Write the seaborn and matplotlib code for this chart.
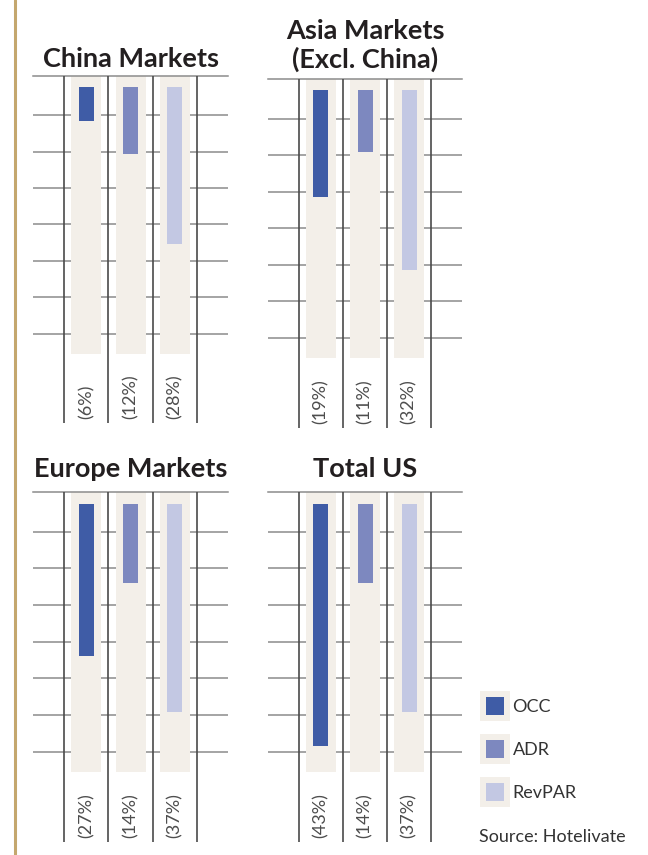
import matplotlib
matplotlib.use("Agg")
import matplotlib.pyplot as plt
from matplotlib.lines import Line2D
import pandas as pd
import seaborn as sns

# data (declines, in %)
markets = ['China Markets', 'Asia Markets\n(Excl. China)', 'Europe Markets', 'Total US']
metrics = ['OCC', 'ADR', 'RevPAR']
occ = [6, 19, 27, 43]
adr = [12, 11, 14, 14]
revpar = [28, 32, 37, 37]

colors = {'OCC': '#3f5ca6', 'ADR': '#7d88bf', 'RevPAR': '#c3c8e3'}
beige = '#f3efe9'
gold = '#c4a76e'

rows = []
for i, m in enumerate(markets):
    for metric, vals in zip(metrics, [occ, adr, revpar]):
        rows.append({'market': m, 'metric': metric, 'change': -vals[i]})
df = pd.DataFrame(rows)

sns.set_style('white')
plt.rcParams['font.family'] = ['Lato', 'DejaVu Sans']

fig = plt.figure(figsize=(6.48, 8.55), dpi=100)

# panel boxes in figure fractions: left, bottom, width, height
boxes = [(0.051, 0.505, 0.301, 0.406),
         (0.4136, 0.4994, 0.2994, 0.408),
         (0.051, 0.0152, 0.301, 0.409),
         (0.4136, 0.0152, 0.2994, 0.409)]
pads = [6.5, 8.5, 11, 11]

for m, box, pad in zip(markets, boxes, pads):
    ax = fig.add_axes(box)
    sub = df[df['market'] == m]
    sns.barplot(data=sub, x='metric', y='change', hue='metric', palette=colors,
                order=metrics, hue_order=metrics, width=0.34, legend=False,
                saturation=1, ax=ax, zorder=3, linewidth=0)
    ax.set_xlim(-1.2, 3.2)
    ax.set_ylim(-60, 2)
    # grid behind the beige columns
    for gy in [-5, -11.5, -18, -24.5, -31, -37.5, -44]:
        ax.axhline(gy, color='#8c8c8c', lw=1.1, zorder=0)
    for i in range(3):
        ax.axvspan(i - 0.34, i + 0.34, ymin=0.2, ymax=1, color=beige, lw=0, zorder=1)
    for vx in [-0.5, 0.5, 1.5, 2.5]:
        ax.axvline(vx, color='#4a4a4a', lw=1.2, zorder=4)
    for i, v in enumerate(sub['change']):
        ax.text(i, -59.3, f"({-v:.0f}%)", rotation=90, ha='center', va='bottom',
                fontsize=13, color='#4d4d4d', zorder=5)
    for s in ['left', 'right', 'bottom']:
        ax.spines[s].set_visible(False)
    ax.spines['top'].set_color('#8c8c8c')
    ax.spines['top'].set_linewidth(1.1)
    ax.set_xticks([])
    ax.set_yticks([])
    ax.set_xlabel('')
    ax.set_ylabel('')
    ax.set_title(m, fontsize=19.5, fontweight='bold', color='#231f20', pad=pad,
                 linespacing=1.15)

# gold rule on the left
fig.add_artist(Line2D([15 / 648, 15 / 648], [0, 1], color=gold, lw=2.2))

handles = [(Line2D([], [], marker='s', ms=21.5, ls='', color=beige, mew=0),
            Line2D([], [], marker='s', ms=12.5, ls='', color=colors[k], mew=0))
           for k in metrics]
fig.legend(handles, metrics, loc='upper left', bbox_to_anchor=(0.727, 0.193),
           frameon=False, fontsize=13, handlelength=1.6, handletextpad=0.2,
           labelspacing=1.5, borderpad=0, labelcolor='#333333')

fig.text(479 / 648, 1 - 837 / 855, 'Source: Hotelivate', fontsize=13,
         color='#333333', va='center', ha='left')

fig.savefig('out.png', dpi=100)
